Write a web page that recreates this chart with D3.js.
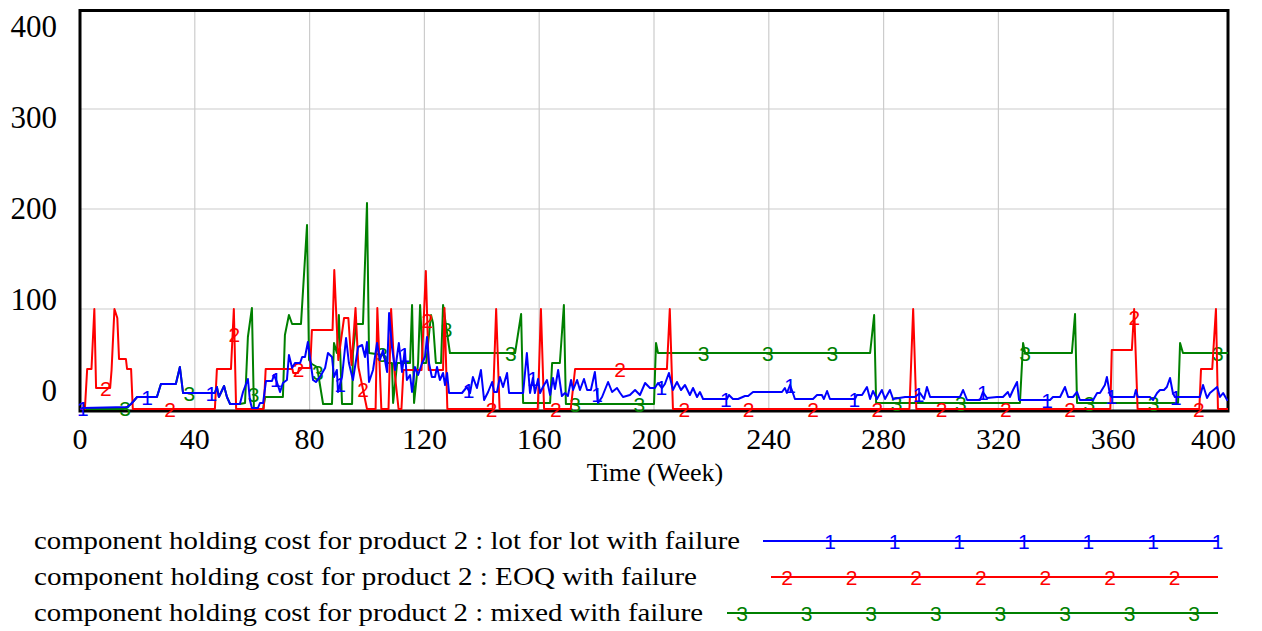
<!DOCTYPE html>
<html>
<head>
<meta charset="utf-8">
<script src="https://cdn.jsdelivr.net/npm/d3@7"></script>
<style>
  body { margin: 0; background: #fff; }
  text { font-family: "Liberation Serif", "Times New Roman", serif; fill: #000; }
  text.mark { font-family: "Liberation Sans", Arial, sans-serif; font-size: 21px; }
</style>
</head>
<body>
<svg id="chart" width="1262" height="631"></svg>
<script>
// tick values
var xTicks = [0, 40, 80, 120, 160, 200, 240, 280, 320, 360, 400];
var yTicks = [0, 100, 200, 300, 400];
var xTitle = "Time (Week)";

var seriesNames = [
  "component holding cost for product 2 : lot for lot with failure",
  "component holding cost for product 2 : EOQ with failure",
  "component holding cost for product 2 : mixed with failure"
];

// [week, cost]
var lotForLot = [[0,0],[1,1],[16.4,2],[17.8,5],[19.9,12],[26.8,12],[28.2,25],[33.4,25],[34.8,42],[35.9,16],[47,16],[47.7,22],[48.4,12],[50.2,23],[51.2,12],[52.3,5],[55.7,5],[56.8,17],[58.5,30],[59.2,9],[59.9,1],[62,1],[62.7,6],[63.8,6],[64.8,28],[66.9,28],[67.6,34],[68.6,27],[69.7,17],[70.7,26],[72.1,29],[72.8,54],[73.9,41],[74.9,46],[76.7,46],[77.4,52],[78.4,52],[79.4,67],[80.1,52],[81.2,29],[82.2,27],[83.6,32],[85.4,41],[86.4,56],[87.8,52],[88.5,32],[89.5,39],[89.9,17],[91.3,32],[92.7,71],[93.7,46],[95.1,29],[96.9,62],[98.3,64],[99.3,52],[100,67],[100.7,27],[102.1,39],[103.5,66],[104.5,49],[105.6,59],[107,37],[107.7,96],[108.7,62],[109.8,39],[111.1,66],[112.2,37],[113.2,59],[113.9,29],[115,34],[115.7,17],[116.7,42],[117.8,34],[119.2,46],[120.2,52],[120.9,72],[121.6,46],[122.6,32],[123.7,32],[124.4,42],[125.4,29],[126.5,36],[127.2,24],[127.9,36],[128.6,16],[133.1,16],[134.8,22],[135.9,16],[136.9,32],[138.3,21],[139.7,39],[140.8,9],[142.2,17],[143.6,27],[144.3,17],[145.3,17],[146.3,32],[147.4,22],[148.8,36],[149.5,16],[154.4,16],[155.7,56],[156.8,16],[157.8,31],[158.5,16],[159.6,30],[160.3,16],[161.3,22],[162.7,29],[163.8,14],[164.8,31],[165.5,20],[166.6,39],[167.9,13],[169,16],[170,13],[171.1,29],[171.8,19],[173.2,29],[174.2,19],[175.6,30],[176.7,19],[178,19],[179.4,37],[180.5,6],[181.9,12],[184,27],[185.4,17],[187.1,21],[188.2,16],[189.2,12],[191.6,14],[193.4,19],[195.1,14],[196.9,26],[198.6,21],[200.3,21],[201.4,26],[202.8,21],[203.8,25],[205.2,36],[206.6,19],[208,27],[209.4,19],[210.8,24],[212.5,14],[213.6,21],[215,12],[216,17],[217.1,10],[225.4,10],[226.1,14],[227.5,10],[229.3,10],[231.7,13],[232.8,13],[234.5,17],[244.6,17],[245.6,21],[246.3,16],[247.4,24],[248.4,16],[249.1,10],[255.4,10],[256.8,14],[258.5,14],[259.2,10],[260.3,18],[261.3,10],[270,10],[270.7,14],[272.5,14],[274.2,22],[275.3,10],[276.3,18],[277.7,10],[279.4,19],[280.5,10],[282.2,19],[283.3,10],[287.5,12],[289.2,12],[290.9,12],[292.7,16],[294.1,10],[295.1,22],[296.2,12],[306.6,12],[307.7,19],[309.1,9],[313.6,9],[314.6,17],[316,11],[319.5,12],[321.6,12],[323.3,17],[324,12],[325.1,19],[326.5,27],[327.2,9],[338,9],[339,12],[341.5,12],[343.2,22],[344.3,12],[346,12],[347.4,17],[348.4,9],[353,9],[354.4,16],[355.4,16],[357.1,24],[357.8,32],[358.9,14],[359.5,12],[367.3,12],[367.9,19],[368.6,12],[372.8,12],[373.9,9],[375.3,16],[376.3,19],[377.7,19],[378.7,22],[379.8,31],[380.8,16],[381.5,12],[390.2,12],[391.3,24],[392.7,11],[393.7,16],[396.2,22],[397.2,12],[398.3,16],[399.7,9],[400,9]];

var eoq = [[0,0],[1.7,0],[2.5,40],[4,40],[5,100],[5.6,21],[10.5,21],[11,39],[12,100],[13,91],[13.6,50],[16,50],[16.4,40],[17.8,40],[18.4,0],[47,0],[47.7,40],[52.6,40],[53.6,100],[54.4,0],[64,0],[64.7,40],[74,40],[74.3,36],[76,36],[76.3,41],[80.2,41],[80.8,79],[88,79],[88.6,139],[90,49],[92,91],[93.5,91],[94.6,44],[96,101],[97,42],[100,0],[103,0],[103.6,101],[105,0],[107.5,0],[108.4,100],[109.5,40],[111,0],[112,0],[112.7,39],[119,39],[120.5,138],[121.5,39],[126.5,39],[127,101],[128,0],[143.8,0],[145,100],[146.2,0],[159.5,0],[160.6,100],[161.7,0],[171,0],[172.5,40],[204.5,40],[205.5,100],[206.6,0],[289,0],[290.3,100],[291.4,0],[359,0],[359.5,59],[366.5,59],[367.3,100],[368.5,0],[390,0],[390.6,40],[394.5,40],[395.8,100],[396.5,0],[400,0]];

var mixed = [[0,0],[15,0],[16.4,2],[17.8,5],[19.9,12],[26.8,12],[28.2,25],[33.4,25],[34.8,42],[35.9,16],[47,16],[47.7,22],[48.4,12],[50.2,23],[51.2,12],[52.3,5],[55.7,5],[57.5,6],[58.5,72],[59.9,101],[60.6,0],[63.8,0],[64.5,12],[70.7,12],[71.4,74],[72.8,94],[73.9,85],[77,85],[79.1,184],[79.8,49],[80.8,45],[82.6,42],[84.7,5],[87.8,5],[88.5,66],[89.5,56],[90.2,94],[91.3,5],[94.8,5],[95.1,56],[96.2,85],[98.6,85],[100,206],[100.7,56],[105.6,54],[107,46],[108.7,46],[109.1,6],[110.5,46],[115,46],[115.7,104],[116.4,6],[117.8,46],[118.5,104],[119.5,46],[120.6,46],[122.3,94],[123,86],[124,46],[125.8,46],[126.5,104],[128.9,56],[151.6,56],[153.7,95],[154.4,6],[163.8,6],[164.5,46],[167.2,46],[168.6,104],[169.3,5],[200,5],[200.7,66],[201.4,56],[275.3,56],[276.7,94],[277.4,6],[327.5,6],[328.6,66],[329.3,56],[345.6,56],[346.7,95],[347.4,6],[382.6,6],[383.3,66],[384.3,56],[400,56]];

var colors = ["#0000ff", "#ff0000", "#008000"];
var labels = ["1", "2", "3"];
var markStart = [1, 9, 15.7];   // week of first marker
var markStep = 22.4;

var svg = d3.select("#chart");

// plot box (note: "top" is taken by window.top, so prefixed names)
var plotL = 80, plotR = 1228, plotT = 10, plotB = 410;
var x = d3.scaleLinear().domain([0, 400]).range([plotL, plotR]);
var y = d3.scaleLinear().domain([0, 400]).range([409, 9]);
// vensim spreads the y labels a bit inside the frame
var yLab = d3.scaleLinear().domain([0, 400]).range([390, 26]);

// grid
svg.append("g").selectAll("line")
  .data(xTicks.slice(1, -1))
  .enter().append("line")
    .attr("x1", function(d) { return x(d); })
    .attr("x2", function(d) { return x(d); })
    .attr("y1", plotT).attr("y2", plotB)
    .attr("stroke", "#cccccc").attr("stroke-width", 1.2);

svg.append("g").selectAll("line")
  .data(yTicks.slice(1, -1))
  .enter().append("line")
    .attr("x1", plotL).attr("x2", plotR)
    .attr("y1", function(d) { return y(d); })
    .attr("y2", function(d) { return y(d); })
    .attr("stroke", "#cccccc").attr("stroke-width", 1.2);

// frame
svg.append("rect")
  .attr("x", plotL).attr("y", plotT + 0.5)
  .attr("width", plotR - plotL).attr("height", plotB - plotT + 0.5)
  .attr("fill", "none").attr("stroke", "#000").attr("stroke-width", 3);

// tick labels
svg.append("g").selectAll("text")
  .data(yTicks)
  .enter().append("text")
    .attr("x", 57)
    .attr("y", function(d) { return yLab(d); })
    .attr("dy", "0.35em")
    .attr("text-anchor", "end")
    .style("font-size", "31px")
    .text(function(d) { return d; });

svg.append("g").selectAll("text")
  .data(xTicks)
  .enter().append("text")
    .attr("x", function(d) { return d == 400 ? 1236 : x(d); })
    .attr("y", 438)
    .attr("dy", "0.35em")
    .attr("text-anchor", function(d) { return d == 400 ? "end" : "middle"; })
    .style("font-size", "30px")
    .text(function(d) { return d; });

svg.append("text")
  .attr("x", 655).attr("y", 472)
  .attr("dy", "0.35em")
  .attr("text-anchor", "middle")
  .style("font-size", "26px")
  .text(xTitle);

// value of a series at week t (for placing the number markers)
function valueAt(data, t) {
  for (var i = 1; i < data.length; i++) {
    if (data[i][0] >= t) {
      var a = data[i - 1], b = data[i];
      return a[1] + (b[1] - a[1]) * (t - a[0]) / (b[0] - a[0]);
    }
  }
  return data[data.length - 1][1];
}

var line = d3.line()
  .x(function(d) { return x(d[0]); })
  .y(function(d) { return y(d[1]); });

var allSeries = [lotForLot, eoq, mixed];

// draw mixed first, lot for lot last (on top)
[2, 1, 0].forEach(function(i) {
  var data = allSeries[i];
  svg.append("path")
    .datum(data)
    .attr("d", line)
    .attr("fill", "none")
    .attr("stroke", colors[i])
    .attr("stroke-width", 2)
    .attr("stroke-linejoin", "round");

  var marks = [];
  for (var t = markStart[i]; t <= 400; t += markStep) marks.push(t);

  svg.append("g").selectAll("text")
    .data(marks)
    .enter().append("text")
      .attr("class", "mark")
      .attr("x", function(d) { return x(d); })
      .attr("y", function(d) { return y(valueAt(data, d)); })
      .attr("dy", "0.36em")
      .attr("text-anchor", "middle")
      .style("fill", colors[i])
      .text(labels[i]);
});

// legend
var legY = [541, 577, 613];
var legLineStart = [763, 771, 727];
var legMarkStart = [830, 787, 742];
var legEnd = 1218;
var legWidth = [706, 663, 669];

seriesNames.forEach(function(name, i) {
  svg.append("text")
    .attr("x", 34).attr("y", legY[i])
    .attr("dy", "0.32em")
    .attr("textLength", legWidth[i])
    .attr("lengthAdjust", "spacingAndGlyphs")
    .style("font-size", "25px")
    .text(name);

  svg.append("line")
    .attr("x1", legLineStart[i]).attr("x2", legEnd)
    .attr("y1", legY[i]).attr("y2", legY[i])
    .attr("stroke", colors[i]).attr("stroke-width", 2);

  var pos = [];
  for (var p = legMarkStart[i]; p <= legEnd + 1; p += 64.6) pos.push(p);
  svg.append("g").selectAll("text")
    .data(pos)
    .enter().append("text")
      .attr("class", "mark")
      .attr("x", function(d) { return d; })
      .attr("y", legY[i])
      .attr("dy", "0.36em")
      .attr("text-anchor", "middle")
      .style("fill", colors[i])
      .text(labels[i]);
});
</script>
</body>
</html>
